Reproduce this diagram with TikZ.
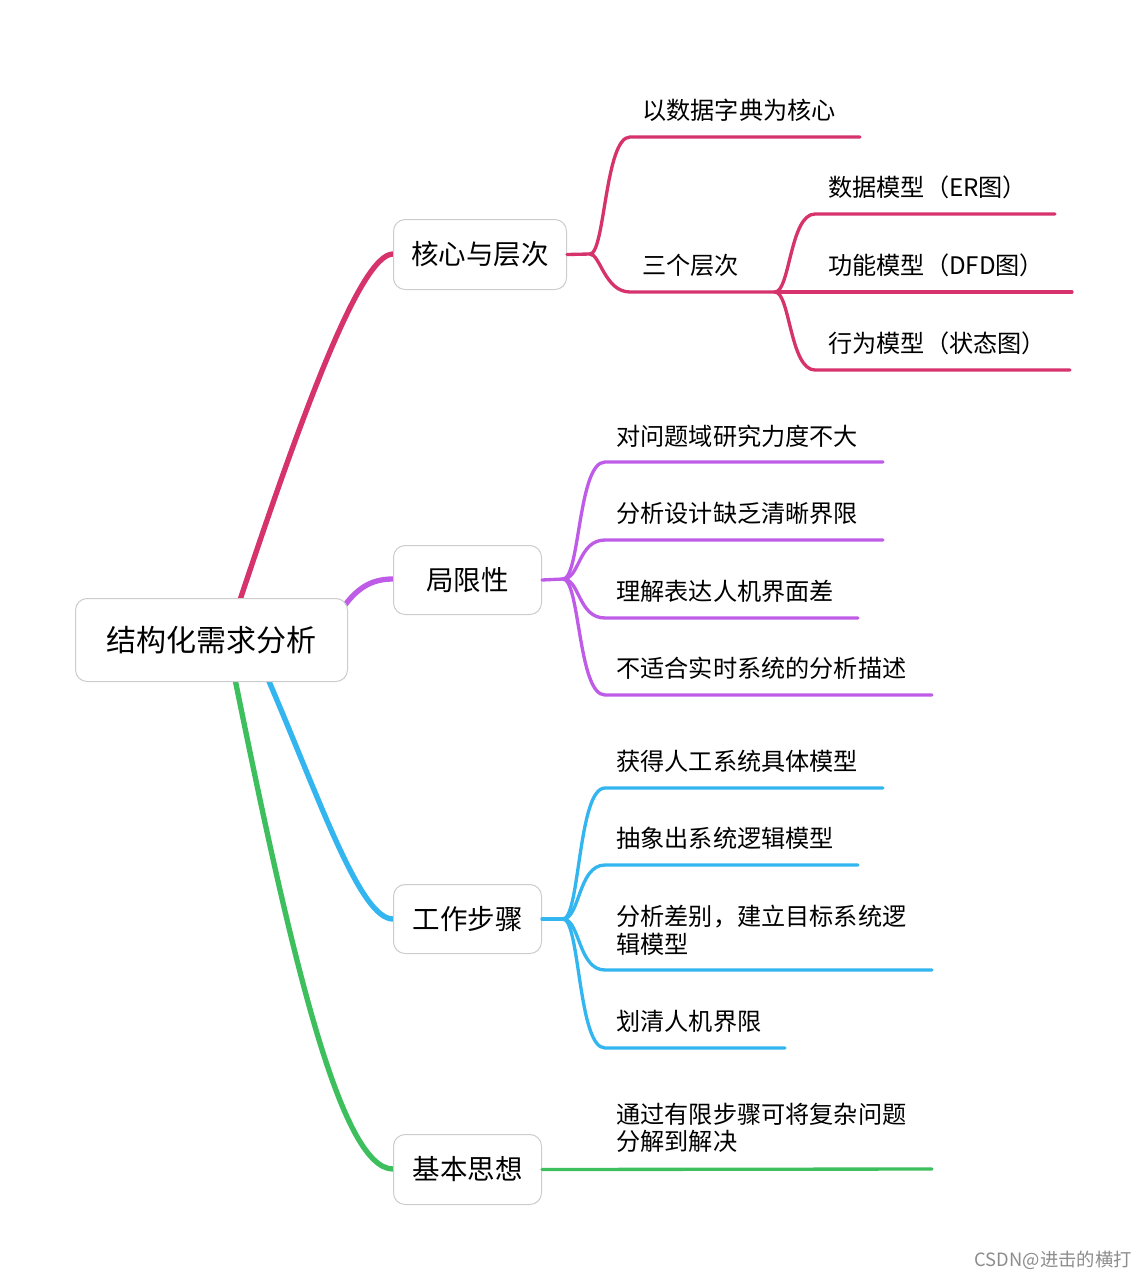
\documentclass[tikz,border=0pt]{standalone}
\usepackage{fontspec}
\setmainfont{Noto Sans CJK SC}
\definecolor{cpink}{RGB}{214,51,108}
\definecolor{cpur}{RGB}{190,92,232}
\definecolor{cblue}{RGB}{51,181,240}
\definecolor{cgreen}{RGB}{61,191,94}
\begin{document}
\begin{tikzpicture}[x=0.6pt,y=-0.6pt,
  box/.style={draw=black!20,line width=0.6pt,rounded corners=7pt,fill=white,anchor=north west,inner sep=0pt},
  leaf/.style={anchor=west,font=\fontsize{14.5}{16.5}\selectfont,inner sep=0pt,align=left},
  br/.style={line width=2pt,line cap=round},
  rt/.style={line width=3.2pt,line cap=round}]
\useasboundingbox (0,0) rectangle (1146,1280);
% root connectors (behind boxes)
\coordinate (r1) at (240,600); \coordinate (r2) at (345,605);
\coordinate (r3) at (268,679); \coordinate (r4) at (235,679);
\coordinate (b1) at (393,254); \coordinate (b2) at (393,579);
\coordinate (b3) at (393,919); \coordinate (b4) at (393,1169);
\draw[rt,cpink] (r1) .. controls (300,420) and (360,254) .. (b1);
\draw[rt,cpur] (r2) .. controls (360,585) and (375,579) .. (b2);
\draw[rt,cblue] (r3) .. controls (320,800) and (360,919) .. (b3);
\draw[rt,cgreen] (r4) .. controls (290,950) and (340,1169) .. (b4);
% boxes
\node[box,minimum width=272*0.6pt,minimum height=83*0.6pt,font=\fontsize{18}{20}\selectfont] (root) at (75,598) {结构化需求分析};
\node[box,minimum width=173*0.6pt,minimum height=70*0.6pt,font=\fontsize{16.5}{18}\selectfont] (k) at (393,219) {核心与层次};
\node[box,minimum width=148*0.6pt,minimum height=69*0.6pt,font=\fontsize{16.5}{18}\selectfont] (j) at (393,545) {局限性};
\node[box,minimum width=148*0.6pt,minimum height=69*0.6pt,font=\fontsize{16.5}{18}\selectfont] (g) at (393,884) {工作步骤};
\node[box,minimum width=148*0.6pt,minimum height=70*0.6pt,font=\fontsize{16.5}{18}\selectfont] (s) at (393,1134) {基本思想};
% 核心与层次
\coordinate (kf) at (590,254);
\draw[br,cpink] (k.east) -- (kf);
\draw[br,cpink] (kf) .. controls (605,254) and (605,137) .. (630,137) -- (860,137);
\draw[br,cpink] (kf) .. controls (600,254) and (605,292) .. (630,292) -- (775,292);
\node[leaf] (k1) at (642,110) {以数据字典为核心};
\node[leaf] (k2) at (642,265) {三个层次};
\coordinate (kf2) at (775,292);
\draw[br,cpink] (kf2) .. controls (790,292) and (790,214) .. (815,214) -- (1055,214);
\draw[br,cpink] (kf2) -- (1072,292);
\draw[br,cpink] (kf2) .. controls (790,292) and (790,370) .. (815,370) -- (1070,370);
\node[leaf] at (828,187) {数据模型（ER图）};
\node[leaf] at (828,265) {功能模型（DFD图）};
\node[leaf] at (828,343) {行为模型（状态图）};
% 局限性
\coordinate (jf) at (563,579);
\draw[br,cpur] (j.east) -- (jf);
\foreach \y/\e in {462/883,540/883,618/858,695/932}
  \draw[br,cpur] (jf) .. controls (580,579) and (578,\y) .. (605,\y) -- (\e,\y);
\node[leaf] at (616,436) {对问题域研究力度不大};
\node[leaf] at (616,513) {分析设计缺乏清晰界限};
\node[leaf] at (616,591) {理解表达人机界面差};
\node[leaf] at (616,668) {不适合实时系统的分析描述};
% 工作步骤
\coordinate (gf) at (563,919);
\draw[br,cblue] (g.east) -- (gf);
\foreach \y/\e in {788/883,865/858,970/932,1048/785}
  \draw[br,cblue] (gf) .. controls (580,919) and (578,\y) .. (605,\y) -- (\e,\y);
\node[leaf] at (616,761) {获得人工系统具体模型};
\node[leaf] at (616,838) {抽象出系统逻辑模型};
\node[leaf] at (616,930) {分析差别，建立目标系统逻\\辑模型};
\node[leaf] at (616,1021) {划清人机界限};
% 基本思想
\draw[br,cgreen] (s.east) -- (932,1169);
\node[leaf] at (616,1128) {通过有限步骤可将复杂问题\\分解到解决};
% watermark
\node[anchor=east,inner sep=0pt,text=black!45,font=\fontsize{11}{13}\selectfont] at (1132,1260) {CSDN@进击的横打};
\end{tikzpicture}
\end{document}
